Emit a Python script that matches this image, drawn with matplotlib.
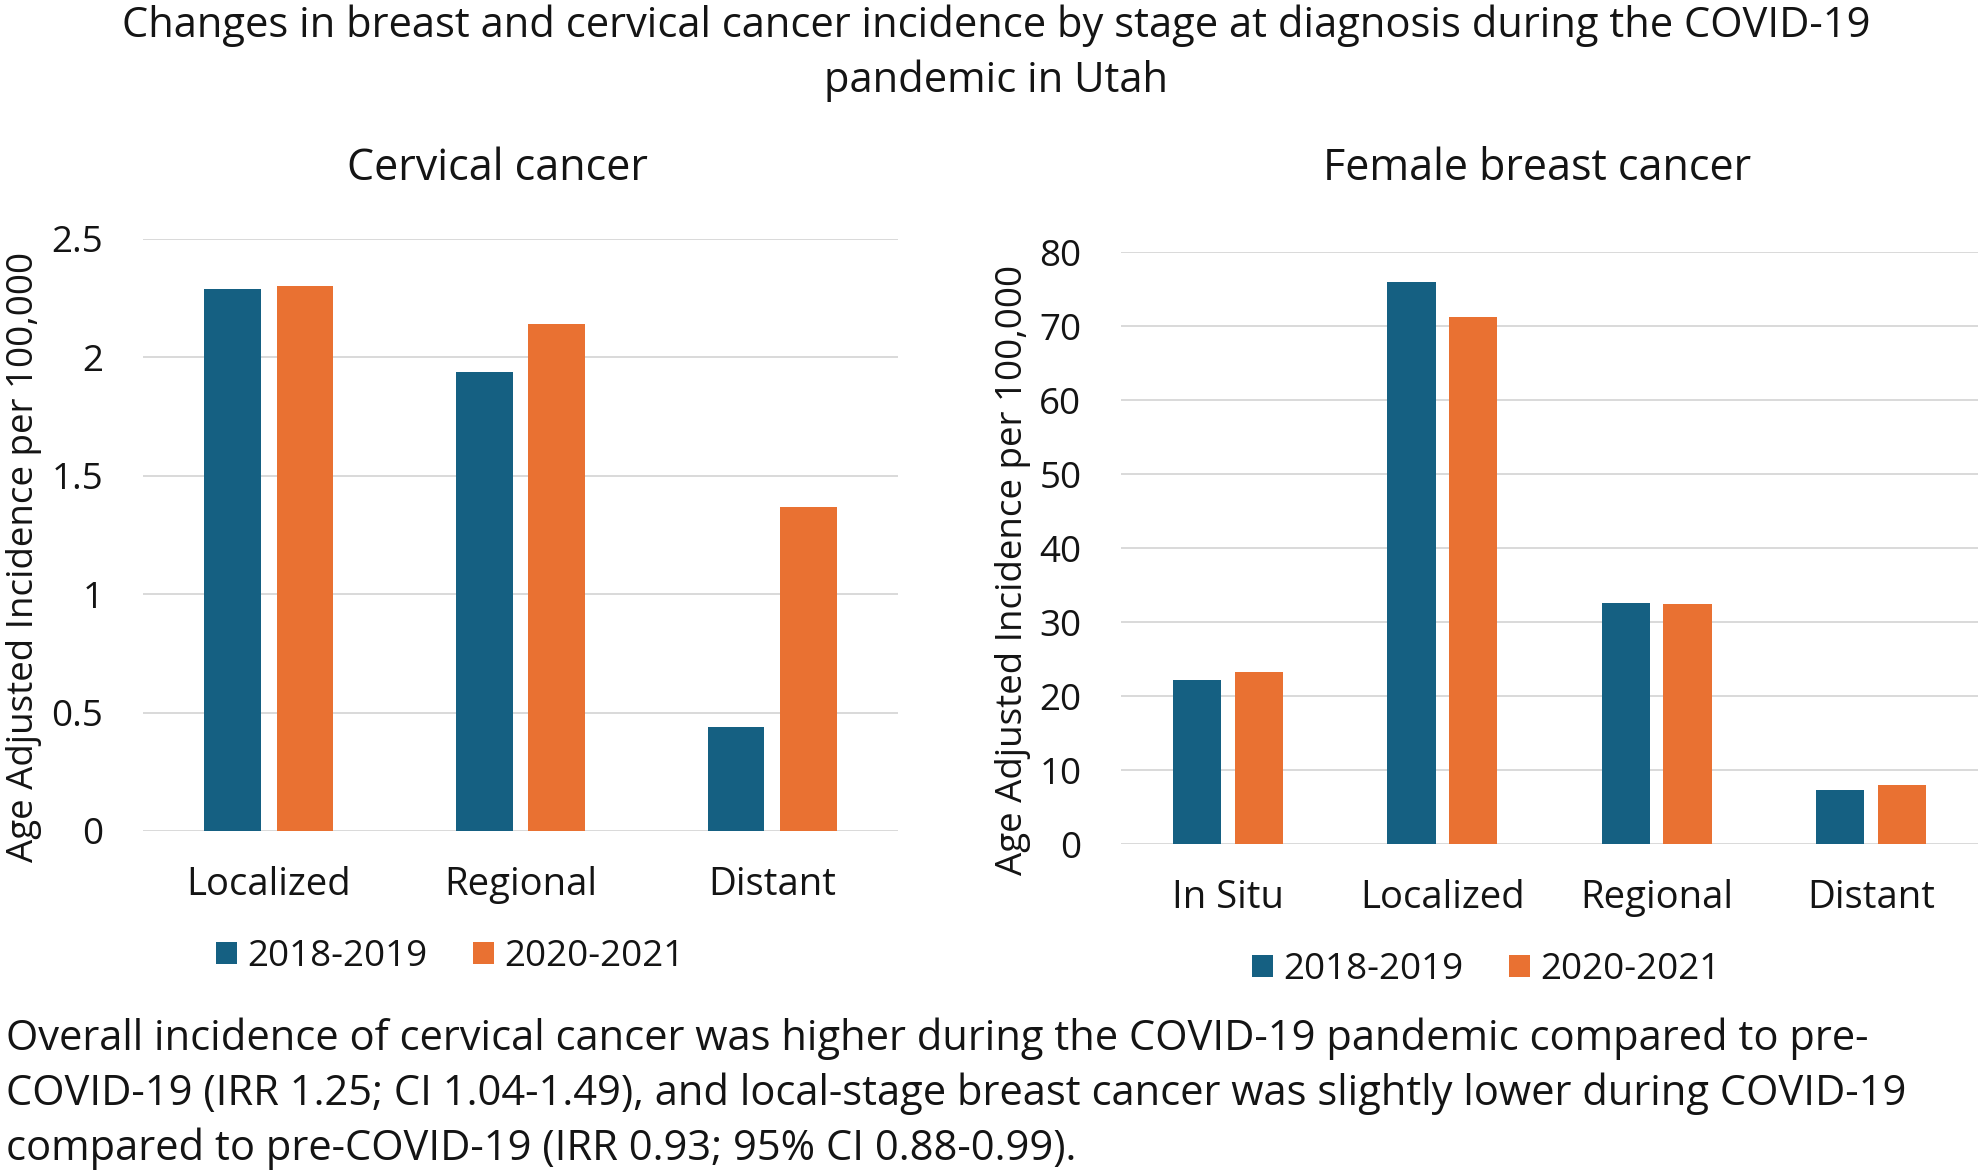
import matplotlib
matplotlib.use("Agg")
import matplotlib.pyplot as plt
import numpy as np

plt.rcParams['font.family'] = ['Open Sans', 'DejaVu Sans']

# data
series = ["2018-2019", "2020-2021"]
cervical_stages = ["Localized", "Regional", "Distant"]
cervical_pre = [2.29, 1.94, 0.44]
cervical_covid = [2.30, 2.14, 1.37]
breast_stages = ["In Situ", "Localized", "Regional", "Distant"]
breast_pre = [22.2, 76.0, 32.6, 7.3]
breast_covid = [23.2, 71.2, 32.4, 8.0]
cervical_ticks = [0, 0.5, 1, 1.5, 2, 2.5]
cervical_ticklabels = ["0", "0.5", "1", "1.5", "2", "2.5"]
breast_ticks = [0, 10, 20, 30, 40, 50, 60, 70, 80]

title_lines = ["Changes in breast and cervical cancer incidence by stage at diagnosis during the COVID-19",
               "pandemic in Utah"]
caption_lines = ["Overall incidence of cervical cancer was higher during the COVID-19 pandemic compared to pre-",
                 "COVID-19 (IRR 1.25; CI 1.04-1.49), and local-stage breast cancer was slightly lower during COVID-19",
                 "compared to pre-COVID-19 (IRR 0.93; 95% CI 0.88-0.99)."]
ylabel = "Age Adjusted Incidence per 100,000"

BLUE = "#156082"
ORANGE = "#E97132"
GRID = "#D9D9D9"
TXT = "#141414"

W, H = 1985, 1174
fig = plt.figure(figsize=(W / 100, H / 100), dpi=100)


def fx(px):
    return px / W


def fy(py):
    return 1 - py / H


def panel(rect, stages, pre, covid, ymax, ticks, ticklabels=None):
    x0, y0, x1, y1 = rect
    ax = fig.add_axes([fx(x0), fy(y1), fx(x1 - x0), (y1 - y0) / H])
    x = np.arange(len(stages))
    w = 0.225
    b1 = ax.bar(x - 0.144, pre, w, color=BLUE, zorder=3)
    b2 = ax.bar(x + 0.144, covid, w, color=ORANGE, zorder=3)
    ax.set_xlim(-0.5, len(stages) - 0.5)
    ax.set_ylim(0, ymax)
    ax.set_yticks(ticks)
    if ticklabels:
        ax.set_yticklabels(ticklabels)
    ax.set_xticks(x)
    ax.set_xticklabels(stages)
    for s in ax.spines.values():
        s.set_visible(False)
    ax.grid(axis='y', color=GRID, lw=1.4, zorder=0)
    ax.tick_params(axis='both', length=0, labelcolor=TXT)
    ax.tick_params(axis='x', pad=25, labelsize=27.5)
    ax.tick_params(axis='y', pad=28.5, labelsize=26.5)
    return ax, b1, b2


ax1, l1, l2 = panel((143, 239, 898, 831), cervical_stages, cervical_pre, cervical_covid,
                    2.5, cervical_ticks, cervical_ticklabels)
ax2, r1, r2 = panel((1121, 252, 1978, 844), breast_stages, breast_pre, breast_covid,
                    80, breast_ticks)

leg_kw = dict(ncol=2, frameon=False, fontsize=26.5, handlelength=0.57, handleheight=0.55,
              handletextpad=0.27, columnspacing=1.25, loc='center', labelcolor=TXT,
              borderaxespad=0, borderpad=0)
fig.legend([l1, l2], series, bbox_to_anchor=(fx(450), fy(957)), **leg_kw)
fig.legend([r1, r2], series, bbox_to_anchor=(fx(1486), fy(970)), **leg_kw)

# y axis titles
fig.text(fx(24), fy(557), ylabel, rotation=90, ha='center', va='center', fontsize=26.5, color=TXT)
fig.text(fx(1013), fy(570), ylabel, rotation=90, ha='center', va='center', fontsize=26.5, color=TXT)

# panel titles
fig.text(fx(497), fy(180), "Cervical cancer", ha='center', va='baseline', fontsize=31, color=TXT)
fig.text(fx(1537), fy(180), "Female breast cancer", ha='center', va='baseline', fontsize=31, color=TXT)

# main title
for i, line in enumerate(title_lines):
    fig.text(fx(996), fy(37 + 55 * i), line, ha='center', va='baseline', fontsize=30, color=TXT)

# caption under the charts
for i, line in enumerate(caption_lines):
    fig.text(fx(6), fy(1050 + 55 * i), line, ha='left', va='baseline', fontsize=30, color=TXT)

fig.savefig("out.png", dpi=100)
